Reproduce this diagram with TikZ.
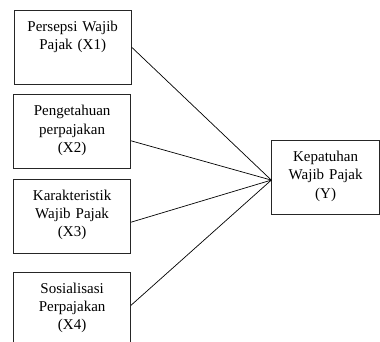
\documentclass[tikz,border=0pt]{standalone}
\usepackage{fontspec}
\setmainfont{Liberation Serif}
\usepackage{tikz}

\tikzset{
  varbox/.style={draw=black!85, line width=0.8pt, align=center,
    inner xsep=3pt, inner ysep=0pt, text height=21pt, text depth=53pt,
    font=\fontsize{15}{18.3}\selectfont},
  link/.style={draw=black, line width=0.7pt}
}

\begin{document}
\begin{tikzpicture}[x=1pt, y=-1pt]
                \useasboundingbox (0,0) rectangle (380,342);
                \clip (0,0) rectangle (380,342);
                % variabel bebas
                \node[varbox, text width=111.5pt] (x1) at (72.7,47.4) {Persepsi Wajib\\Pajak (X1)};
                \node[varbox, text width=111pt] (x2) at (72.1,131.8) {Pengetahuan\\perpajakan\\(X2)};
                \node[varbox, text width=111pt] (x3) at (72.1,216.2) {Karakteristik\\Wajib Pajak\\(X3)};
                \node[varbox, text width=111pt] (x4) at (72.1,309.3) {Sosialisasi\\Perpajakan\\(X4)};
                % variabel terikat
                \node[varbox, text width=101.8pt] (y) at (325.6,177.6) {Kepatuhan\\Wajib Pajak\\(Y)};
                \coordinate[yshift=-2.5pt] (hub) at (y.west);
                \foreach \src/\dy in {x1/0, x2/-9, x3/-6, x4/4}
                \draw[link] ([yshift=\dy pt]\src.east) -- (hub);
            \end{tikzpicture}
\end{document}
